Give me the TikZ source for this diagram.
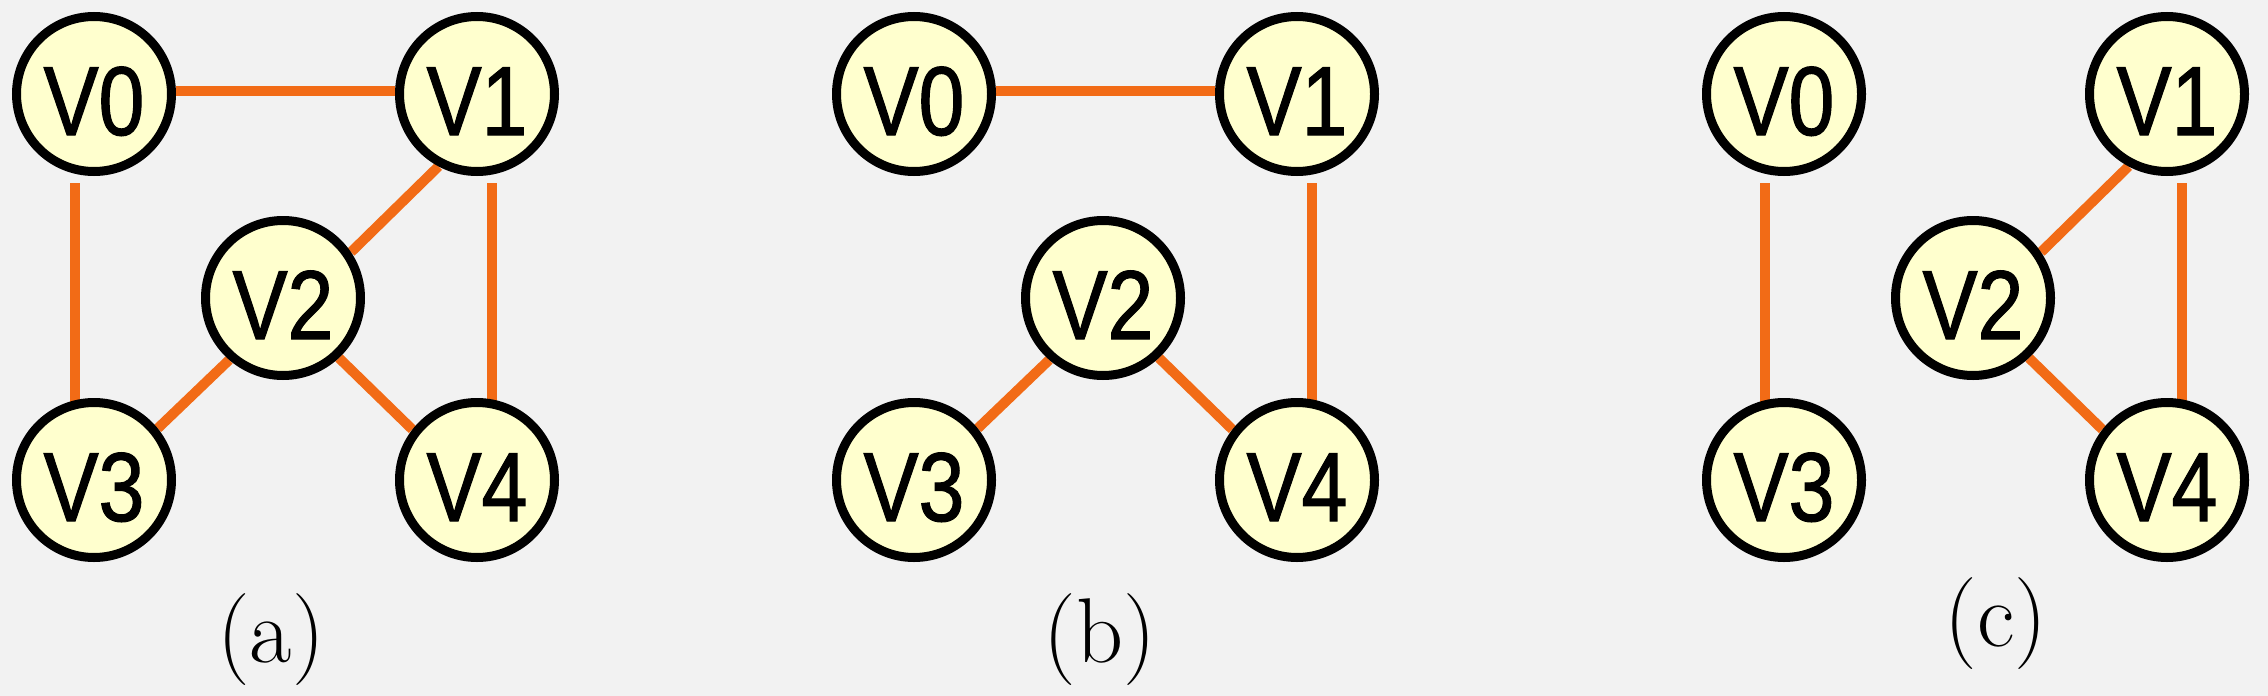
\documentclass[tikz,border=0pt]{standalone}
\usepackage{fontspec}
\newfontfamily\vfont[FakeStretch=0.84,FakeBold=1.2]{Liberation Sans}
\usetikzlibrary{backgrounds}
\definecolor{bgc}{RGB}{242,242,242}
\definecolor{vfill}{RGB}{255,255,206}
\definecolor{edgec}{RGB}{242,107,22}
\tikzset{
  vert/.style={circle, draw=black, line width=9pt, fill=vfill, minimum size=155pt,
    inner sep=0pt, text height=82pt, text depth=0pt,
    font=\vfont\fontsize{98}{100}\selectfont},
  edge/.style={draw=edgec, line width=10pt},
  captext/.style={anchor=base, font=\fontsize{92}{100}\selectfont}
}
\begin{document}
\begin{tikzpicture}[x=1pt, y=-1pt]
\useasboundingbox (0,0) rectangle (2268,696);
% panel a
\node[vert] (a0) at (94,94) {V0};
\node[vert] (a1) at (477,94) {V1};
\node[vert] (a2) at (283,298) {V2};
\node[vert] (a3) at (94,480) {V3};
\node[vert] (a4) at (477,480) {V4};
\node[captext] (la) at (271,662) {(a)};
% panel b
\node[vert] (b0) at (914,94) {V0};
\node[vert] (b1) at (1297,94) {V1};
\node[vert] (b2) at (1103,298) {V2};
\node[vert] (b3) at (914,480) {V3};
\node[vert] (b4) at (1297,480) {V4};
\node[captext] (lb) at (1100,662) {(b)};
% panel c
\node[vert] (c0) at (1784,94) {V0};
\node[vert] (c1) at (2167,94) {V1};
\node[vert] (c2) at (1973,298) {V2};
\node[vert] (c3) at (1784,480) {V3};
\node[vert] (c4) at (2167,480) {V4};
\node[captext] (lc) at (1996,646) {(c)};
\begin{scope}[on background layer]
\fill[bgc] (0,0) rectangle (2268,696);
% panel a edges
\draw[edge] ([yshift=3pt]a0.east) -- ([yshift=3pt]a1.west);
\draw[edge] ([xshift=-19pt,yshift=-7pt]a0.south) -- ([xshift=-19pt,yshift=-5pt]a3.north);
\draw[edge] ([xshift=15pt,yshift=-7pt]a1.south) -- ([xshift=15pt,yshift=-5pt]a4.north);
\draw[edge] (a1.242) -- (a2.34);
\draw[edge] (a2.229) -- (a3.39);
\draw[edge] (a2.313) -- (a4.142);
% panel b edges
\draw[edge] ([yshift=3pt]b0.east) -- ([yshift=3pt]b1.west);
\draw[edge] ([xshift=15pt,yshift=-7pt]b1.south) -- ([xshift=15pt,yshift=-5pt]b4.north);
\draw[edge] (b2.229) -- (b3.39);
\draw[edge] (b2.313) -- (b4.142);
% panel c edges
\draw[edge] ([xshift=-19pt,yshift=-7pt]c0.south) -- ([xshift=-19pt,yshift=-5pt]c3.north);
\draw[edge] ([xshift=15pt,yshift=-7pt]c1.south) -- ([xshift=15pt,yshift=-5pt]c4.north);
\draw[edge] (c1.242) -- (c2.34);
\draw[edge] (c2.313) -- (c4.142);
\end{scope}
\end{tikzpicture}
\end{document}
